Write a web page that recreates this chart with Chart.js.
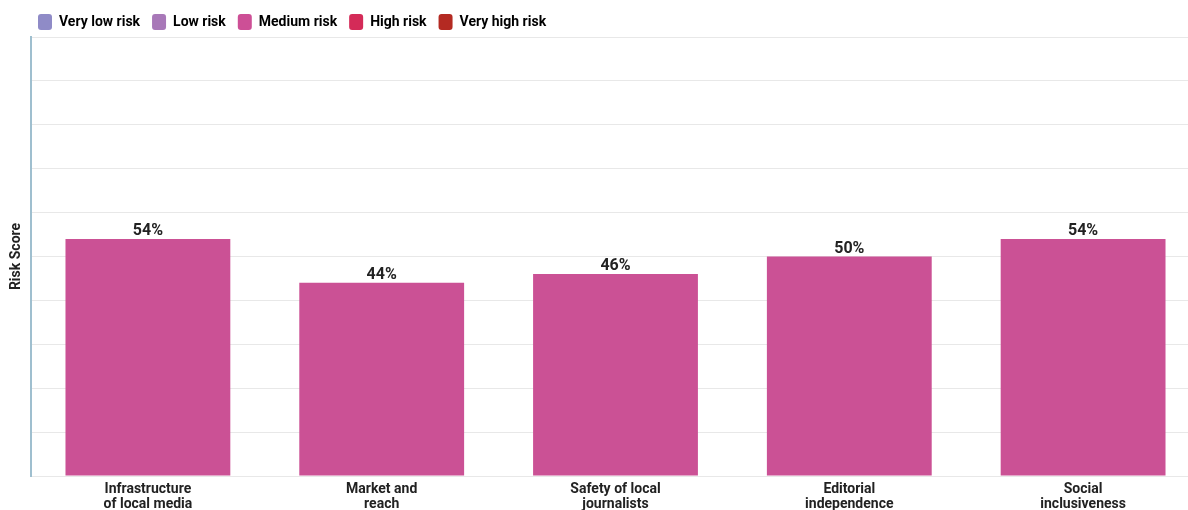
<!DOCTYPE html>
<html>
<head>
<meta charset="utf-8">
<script src="https://cdn.jsdelivr.net/npm/chart.js@4.4.1/dist/chart.umd.min.js"></script>
<style>
  html, body { margin: 0; padding: 0; background: #fff; overflow: hidden; }
  #wrap { width: 1200px; height: 510px; }
</style>
</head>
<body>
<div id="wrap"><canvas id="riskChart"></canvas></div>
<script>
const categories = [
    ['Infrastructure', 'of local media'],
    ['Market and', 'reach'],
    ['Safety of local', 'journalists'],
    ['Editorial', 'independence'],
    ['Social', 'inclusiveness']
];
const riskScores = [54, 44, 46, 50, 54];
const riskLevels = ['Very low risk', 'Low risk', 'Medium risk', 'High risk', 'Very high risk'];
const riskColors = ['#8f8bc7', '#a878b8', '#cd4f96', '#d42b58', '#b42a22'];
const barColor = '#cb5195';

// percentage labels above each bar
const barLabels = {
    id: 'barLabels',
    afterDatasetsDraw(chart) {
        const ctx = chart.ctx;
        const meta = chart.getDatasetMeta(0);
        ctx.save();
        ctx.font = 'bold 16px Roboto';
        ctx.fillStyle = '#222';
        ctx.textAlign = 'center';
        ctx.textBaseline = 'bottom';
        meta.data.forEach((bar, i) => {
            ctx.fillText(riskScores[i] + '%', bar.x, bar.y);
        });
        ctx.restore();
    }
};

// push the legend in line with the axis
const legendShift = {
    id: 'legendShift',
    afterLayout(chart) {
        chart.legend.left += 26;
        chart.legend.top += 3;
    }
};

const ctx = document.getElementById('riskChart').getContext('2d');
new Chart(ctx, {
    type: 'bar',
    data: {
        labels: categories,
        datasets: [{
            label: 'Risk Score',
            data: riskScores,
            backgroundColor: barColor,
            categoryPercentage: 1,
            barPercentage: 0.705
        }]
    },
    options: {
        responsive: true,
        maintainAspectRatio: false,
        animation: false,
        layout: { padding: { top: -1, right: 0, bottom: 0, left: 0 } },
        scales: {
            x: {
                grid: { display: false, drawTicks: false },
                border: { display: false },
                ticks: {
                    color: '#222',
                    font: { family: 'Roboto', size: 14, weight: 'bold', lineHeight: 1.08 },
                    padding: 6,
                    maxRotation: 0
                },
                afterFit(scale) {
                    scale.height = 34;
                }
            },
            y: {
                min: 0,
                max: 100,
                ticks: { display: false, stepSize: 10 },
                grid: { color: '#e8e8e8', drawTicks: false },
                border: { display: true, color: '#9fbfcf', width: 2 },
                title: {
                    display: true,
                    text: 'Risk Score',
                    color: '#222',
                    font: { family: 'Roboto', size: 14, weight: 'bold' },
                    padding: { top: 8, bottom: 0 }
                },
                afterFit(scale) {
                    scale.width = 31;
                }
            }
        },
        plugins: {
            legend: {
                display: true,
                align: 'start',
                labels: {
                    boxWidth: 14,
                    boxHeight: 16,
                    padding: 12,
                    color: '#222',
                    font: { family: 'Roboto', size: 14, weight: 'bold' },
                    generateLabels() {
                        return riskLevels.map((name, i) => ({
                            text: name,
                            fillStyle: riskColors[i],
                            strokeStyle: riskColors[i],
                            lineWidth: 0,
                            borderRadius: 3,
                            datasetIndex: 0
                        }));
                    }
                }
            },
            tooltip: { enabled: false }
        }
    },
    plugins: [barLabels, legendShift]
});
</script>
</body>
</html>
